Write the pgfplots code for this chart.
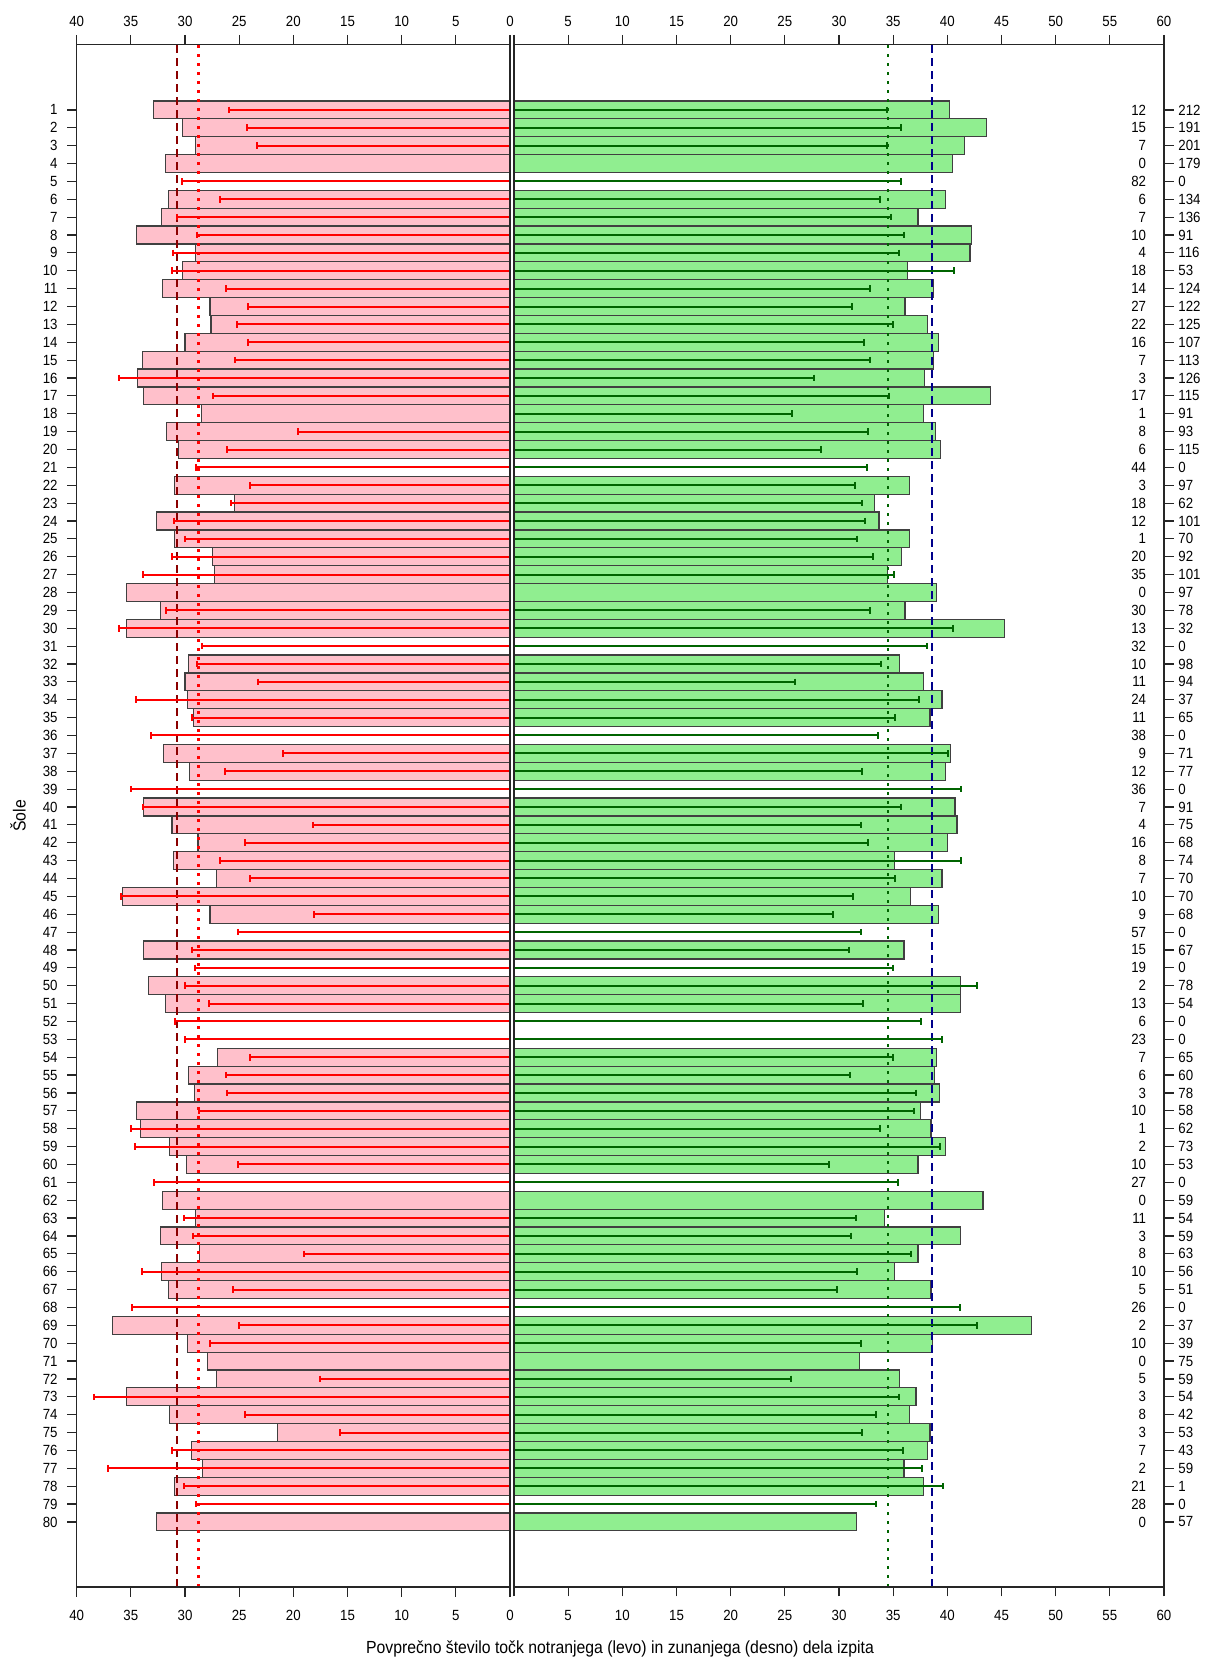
\documentclass[border=0pt]{standalone}
\usepackage{graphicx}
\usepackage{pgfplots}
\pgfplotsset{compat=1.18}
\usepackage{pgfplotstable}
\usepackage{fontspec}
\setmainfont{Liberation Sans}[FakeStretch=0.9]

\definecolor{rpink}{RGB}{255,192,203}
\definecolor{rgreen}{RGB}{144,238,144}
\definecolor{rdarkgreen}{RGB}{0,100,0}
\definecolor{rdarkred}{RGB}{139,0,0}
\definecolor{rdarkblue}{RGB}{0,0,139}

% bars: row, internal (left), external (right)
\pgfplotstableread{
row L R
1 32.9 40.2
2 30.2 43.6
3 29.0 41.6
4 31.8 40.5
6 31.5 39.8
7 32.2 37.3
8 34.5 42.2
9 29.0 42.1
10 30.2 36.3
11 32.1 38.7
12 27.7 36.1
13 27.6 38.2
14 30.0 39.2
15 33.9 38.7
16 34.4 37.9
17 33.8 44.0
18 28.5 37.8
19 31.7 38.9
20 30.6 39.4
22 31.0 36.5
23 25.4 33.3
24 32.6 33.7
25 31.0 36.5
26 27.5 35.8
27 27.3 34.5
28 35.4 39.0
29 32.3 36.1
30 35.4 45.3
32 29.7 35.6
33 30.0 37.8
34 29.8 39.5
35 29.2 38.4
37 32.0 40.3
38 29.6 39.8
40 33.8 40.7
41 31.2 40.9
42 28.8 40.0
43 31.1 35.1
44 27.1 39.5
45 35.8 36.6
46 27.7 39.2
48 33.8 36.0
50 33.4 41.2
51 31.8 41.2
54 27.0 39.0
55 29.7 38.8
56 29.1 39.3
57 34.5 37.5
58 34.1 38.5
59 31.4 39.8
60 29.9 37.3
62 32.1 43.3
63 29.0 34.2
64 32.3 41.2
65 28.7 37.3
66 32.2 35.1
67 31.5 38.5
69 36.7 47.8
70 29.8 38.6
71 27.9 31.9
72 27.1 35.6
73 35.4 37.1
74 31.4 36.5
75 21.5 38.4
76 29.4 38.2
77 28.4 36.0
78 31.0 37.8
80 32.6 31.6
}\bars

% lines, left side
\pgfplotstableread{
row L
1 25.9
2 24.3
3 23.4
5 30.3
6 26.8
7 30.7
8 28.9
9 31.1
10 31.2
11 26.2
12 24.2
13 25.2
14 24.2
15 25.4
16 36.1
17 27.4
19 19.6
20 26.1
21 29.0
22 24.0
23 25.8
24 31.0
25 30.0
26 31.2
27 33.9
29 31.8
30 36.1
31 28.4
32 28.9
33 23.3
34 34.5
35 29.4
36 33.1
37 21.0
38 26.3
39 35.0
40 33.9
41 18.2
42 24.5
43 26.8
44 24.0
45 35.9
46 18.1
47 25.1
48 29.4
49 29.1
50 30.0
51 27.8
52 30.9
53 30.0
54 24.0
55 26.2
56 26.1
57 28.7
58 35.0
59 34.6
60 25.1
61 32.9
63 30.1
64 29.3
65 19.0
66 34.0
67 25.6
68 34.9
69 25.0
70 27.7
72 17.5
73 38.4
74 24.5
75 15.7
76 31.2
77 37.1
78 30.1
79 29.0
}\lineL

% lines, right side
\pgfplotstableread{
row R
1 34.4
2 35.7
3 34.4
5 35.7
6 33.8
7 34.8
8 36.0
9 35.5
10 40.6
11 32.9
12 31.2
13 35.0
14 32.3
15 32.9
16 27.7
17 34.6
18 25.7
19 32.7
20 28.3
21 32.6
22 31.5
23 32.1
24 32.4
25 31.7
26 33.1
27 35.1
29 32.9
30 40.5
31 38.1
32 33.9
33 25.9
34 37.4
35 35.2
36 33.6
37 40.1
38 32.1
39 41.3
40 35.7
41 32.0
42 32.7
43 41.3
44 35.2
45 31.3
46 29.4
47 32.0
48 30.9
49 35.0
50 42.7
51 32.2
52 37.6
53 39.5
54 35.0
55 31.0
56 37.1
57 36.9
58 33.8
59 39.3
60 29.1
61 35.4
63 31.6
64 31.1
65 36.6
66 31.7
67 29.8
68 41.2
69 42.7
70 32.0
72 25.6
73 35.5
74 33.4
75 32.1
76 35.9
77 37.7
78 39.6
79 33.4
}\lineR

% first column of counts
\pgfplotstableread{
row n
1 12
2 15
3 7
4 0
5 82
6 6
7 7
8 10
9 4
10 18
11 14
12 27
13 22
14 16
15 7
16 3
17 17
18 1
19 8
20 6
21 44
22 3
23 18
24 12
25 1
26 20
27 35
28 0
29 30
30 13
31 32
32 10
33 11
34 24
35 11
36 38
37 9
38 12
39 36
40 7
41 4
42 16
43 8
44 7
45 10
46 9
47 57
48 15
49 19
50 2
51 13
52 6
53 23
54 7
55 6
56 3
57 10
58 1
59 2
60 10
61 27
62 0
63 11
64 3
65 8
66 10
67 5
68 26
69 2
70 10
71 0
72 5
73 3
74 8
75 3
76 7
77 2
78 21
79 28
80 0
}\counts

\begin{document}
\begin{tikzpicture}
\pgfplotsset{
  panel/.style={
    scale only axis, height=771.25bp, ymin=-83.64, ymax=2.66,
    tick align=outside, major tick length=4.75bp,
    axis line style={black!85, line width=0.6bp},
    tick style={black!85, line width=0.6bp},
    tick label style={font=\fontsize{7.4}{9}\selectfont, inner sep=0pt},
    /pgf/number format/assume math mode=true,
  },
}
% ---------- left panel ----------
\begin{axis}[panel, name=L, at={(0,0)}, anchor=south west, width=216.65bp,
  xmin=-40, xmax=0, xtick={-40,-35,...,0},
  xticklabels={40,35,30,25,20,15,10,5,0},
  xtick pos=left, xticklabel pos=left, xticklabel shift=6.75bp,
  ytick={-80,-79,...,-1},
  yticklabels={80,79,78,77,76,75,74,73,72,71,70,69,68,67,66,65,64,63,62,61,60,59,58,57,56,55,54,53,52,51,50,49,48,47,46,45,44,43,42,41,40,39,38,37,36,35,34,33,32,31,30,29,28,27,26,25,24,23,22,21,20,19,18,17,16,15,14,13,12,11,10,9,8,7,6,5,4,3,2,1},
  ytick pos=left, yticklabel pos=left, yticklabel shift=4.6bp,
  every axis y label/.style={at={(axis description cs:-0.1355,0.5)},rotate=90,anchor=center,font=\fontsize{8.8}{10}\selectfont},
  ylabel={Šole},
  every axis x label/.style={at={(axis description cs:1.254,-0.0402)},anchor=center,font=\fontsize{8.8}{10}\selectfont},
  xlabel={Povprečno število točk notranjega (levo) in zunanjega (desno) dela izpita},
]
\addplot[xbar, bar width=1, fill=rpink, draw=black!75, line width=0.6bp]
  table[x expr=-\thisrow{L}, y expr=-\thisrow{row}] \bars;
\addplot[rdarkred, line width=1.3bp, dash pattern=on 4bp off 2.5bp]
  coordinates {(-30.75,-83.64) (-30.75,2.66)};
\addplot[red, line width=1.3bp, dash pattern=on 1.5bp off 3bp]
  coordinates {(-28.75,-83.64) (-28.75,2.66)};
\addplot[xcomb, red, line width=1bp, mark=|, mark size=1.65bp, mark options={solid, line width=1bp}]
  table[x expr=-\thisrow{L}, y expr=-\thisrow{row}] \lineL;
\end{axis}
\begin{axis}[panel, at={(0,0)}, anchor=south west, width=216.65bp,
  xmin=-40, xmax=0, xtick={-40,-35,...,0},
  xticklabels={40,35,30,25,20,15,10,5,0},
  xtick pos=right, xticklabel pos=right, xticklabel shift=3.75bp,
  ytick=\empty]
\end{axis}
% ---------- right panel ----------
\begin{axis}[panel, name=R, at={(218.65bp,0)}, anchor=south west, width=325bp,
  xmin=0, xmax=60, xtick={0,5,...,60},
  xticklabels={,5,10,15,20,25,30,35,40,45,50,55,60},
  xtick pos=left, xticklabel pos=left, xticklabel shift=6.75bp,
  ytick={-80,-79,...,-1},
  yticklabels={57,0,1,59,43,53,42,54,59,75,39,37,0,51,56,63,59,54,59,0,53,73,62,58,78,60,65,0,0,54,78,0,67,0,68,70,70,74,68,75,91,0,77,71,0,65,37,94,98,0,32,78,97,101,92,70,101,62,97,0,115,93,91,115,126,113,107,125,122,124,53,116,91,136,134,0,179,201,191,212},
  ytick pos=right, yticklabel pos=right, yticklabel shift=2.25bp,
]
\addplot[xbar, bar width=1, fill=rgreen, draw=black!75, line width=0.6bp]
  table[x=R, y expr=-\thisrow{row}] \bars;
\addplot[rdarkgreen, line width=1bp, dash pattern=on 1.5bp off 3bp]
  coordinates {(34.54,-83.64) (34.54,2.66)};
\addplot[rdarkblue, line width=1.3bp, dash pattern=on 4bp off 2.5bp]
  coordinates {(38.6,-83.64) (38.6,2.66)};
\addplot[xcomb, rdarkgreen, line width=1bp, mark=|, mark size=1.65bp, mark options={solid, line width=1bp}]
  table[x=R, y expr=-\thisrow{row}] \lineR;
\addplot[draw=none, mark=none, nodes near coords={\makebox[0pt][r]{\pgfplotspointmeta}},
  point meta=explicit symbolic,
  every node near coord/.append style={anchor=center, inner sep=0pt, font=\fontsize{7.4}{9}\selectfont}]
  table[x expr=58.35, y expr=-\thisrow{row}, meta=n] \counts;
\end{axis}
\begin{axis}[panel, at={(218.65bp,0)}, anchor=south west, width=325bp,
  xmin=0, xmax=60, xtick={0,5,...,60},
  xticklabels={,5,10,15,20,25,30,35,40,45,50,55,60},
  xtick pos=right, xticklabel pos=right, xticklabel shift=3.75bp,
  ytick=\empty]
\end{axis}
\pgfresetboundingbox
\path[use as bounding box] (-38.35bp,-35bp) rectangle (564.65bp,793.5bp);
\end{tikzpicture}
\end{document}
